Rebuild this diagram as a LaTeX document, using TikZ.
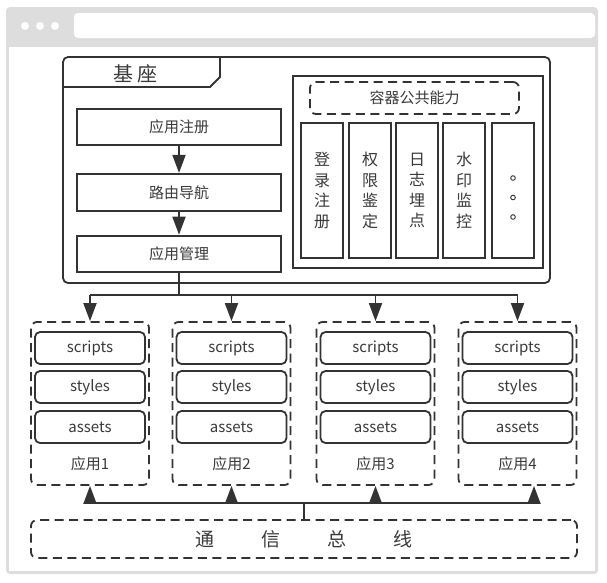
\documentclass[tikz,border=0pt]{standalone}
\usepackage{fontspec}
\setmainfont{Noto Sans CJK SC}
\usepackage{xcolor}
\usetikzlibrary{arrows.meta, positioning, calc}

\definecolor{linec}{HTML}{333333}
\definecolor{textc}{HTML}{3A3A3A}
\definecolor{framec}{HTML}{DDDDDD}

\begin{document}
\begin{tikzpicture}[
      x=1pt, y=-1pt,
      font=\fontsize{15}{18}\selectfont,
      text=textc,
      solidbox/.style={
          draw=linec,
          line width=1.8pt,
          minimum width=204pt,
          minimum height=36pt,
          inner sep=0pt,
          align=center
      },
      colbox/.style={
          draw=linec,
          line width=1.8pt,
          minimum width=42pt,
          minimum height=135pt,
          inner sep=0pt,
          align=center,
          font=\fontsize{16}{20.5}\selectfont
      },
      dashbox/.style={
          draw=linec,
          line width=1.8pt,
          dash pattern=on 9pt off 5.5pt,
          rounded corners=6pt,
          inner sep=0pt
      },
      filebox/.style={
          draw=linec,
          line width=1.8pt,
          rounded corners=5pt,
          minimum width=110pt,
          minimum height=32pt,
          inner sep=0pt
      },
      link/.style={draw=linec, line width=1.8pt},
      flow/.style={link, -{Triangle[length=18pt, width=13pt]}}
  ]
      \useasboundingbox (0,0) rectangle (607,582);

      % --- Browser frame ---
      \fill[framec, rounded corners=4pt] (6,7) rectangle (598,574);
      \fill[white] (9,47) rectangle (595,571);
      \fill[white, rounded corners=4pt] (74,13) rectangle (595,38);
      \foreach \dx in {25, 40, 55}
          \fill[white] (\dx,26) circle (4);

      % --- Base ---
      \draw[link, rounded corners=5pt] (63,57) rectangle (550,283);
      \draw[link] (63,87) -- (210,87) -- (220,77) -- (220,57);
      \node[font=\fontsize{20}{24}\selectfont] (base_lbl) at (135,74) {基\hspace{4pt}座};

      \node[solidbox] (reg) at (179,127) {应用注册};
      \node[solidbox, minimum height=37pt, below=27pt of reg] (nav) {路由导航};
      \node[solidbox, below=23pt of nav] (mgr) {应用管理};

      \draw[flow] (reg) -- (nav);
      \draw[flow] (nav) -- (mgr);

      % --- Container abilities ---
      \node[draw=linec, line width=1.8pt, minimum width=250pt, minimum height=192pt] (cont) at (418,172) {};
      \node[dashbox, minimum width=209pt, minimum height=32pt] (common) at (414.5,98) {容器公共能力};

      \foreach \name/\cx/\txt in {login/322/{登\\录\\注\\册}, auth/370/{权\\限\\鉴\\定}, log/417/{日\\志\\埋\\点}, mark/464/{水\\印\\监\\控}, more/513/{}}
          \node[colbox] (\name) at (\cx,190.5) {\txt};

      \foreach \dy in {-12.5, 7, 26.5}
          \draw[linec, line width=0.9pt] ($(more)+(0,\dy)$) circle (2.3);

      % --- Applications ---
      \foreach \i/\cx in {1/90, 2/231.5, 3/375.5, 4/517.5} {
          \node[dashbox, minimum width=118pt, minimum height=163pt] (app\i) at (\cx,403.5) {};
          \node[filebox] (scr\i) at (\cx,348) {scripts};
          \node[filebox] (sty\i) at (\cx,387) {styles};
          \node[filebox] (ast\i) at (\cx,427) {assets};
          \node (lbl\i) at (\cx,464) {应用\i};
      }

      % --- Communication bus ---
      \node[dashbox, minimum width=546pt, minimum height=38pt, font=\fontsize{19}{22}\selectfont] (bus) at (304,539)
          {通\hspace{47pt}信\hspace{47pt}总\hspace{47pt}线};

      % --- Connections (arrows) ---
      \coordinate (topbus) at (179,295);
      \coordinate (botbus) at (304,503);
      \coordinate (tip4) at ($(app4.south)+(16.5,0)$);

      \draw[link] (mgr) -- (topbus);
      \draw[link] (app1.north |- topbus) -- (app4.north |- topbus);
      \foreach \i in {1,...,4}
          \draw[flow] (app\i.north |- topbus) -- (app\i.north);

      \draw[link] (bus.north) -- (botbus);
      \draw[link] (app1.south |- botbus) -- (tip4 |- botbus);
      \foreach \i in {1,...,3}
          \draw[flow] (app\i.south |- botbus) -- (app\i.south);
      \draw[flow] (tip4 |- botbus) -- (tip4);

  \end{tikzpicture}
\end{document}
